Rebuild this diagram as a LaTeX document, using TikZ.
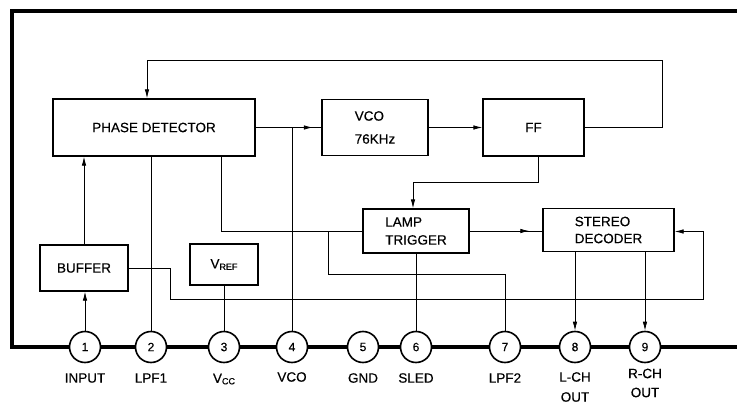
\documentclass[tikz,border=0pt]{standalone}
\usepackage{fontspec}
\setmainfont[FakeBold=0.4]{Liberation Sans}
\usetikzlibrary{arrows.meta,decorations.markings}
\newcommand{\sm}[1]{{\fontsize{9}{9}\selectfont\raisebox{-1.5pt}{#1}}}
\begin{document}
\begin{tikzpicture}[x=1pt,y=-1pt,
  txt/.style={font=\fontsize{13.5}{18}\selectfont},
  box/.style={draw,line width=1.3pt,inner sep=0pt,fill=white,txt},
  pinc/.style={draw,circle,line width=1.6pt,fill=white,minimum size=31pt,inner sep=0pt,font=\fontsize{12}{12}\selectfont},
  lbl/.style={txt,inner sep=0pt},
  wire/.style={line width=0.8pt},
  arr/.style={-{Latex[length=9pt,width=4.5pt]}},
  midarr/.style={postaction={decorate},decoration={markings,mark=at position #1 with {\arrow{Latex[length=9pt,width=4.5pt]}}}}]
\useasboundingbox (0,0) rectangle (737,404);
% frame
\draw[line width=3.5pt,line join=miter] (737,11) -- (12,11) -- (12,347) -- (737,347);
% blocks
\node[box,minimum width=202pt,minimum height=57pt] (PD) at (154,127.5) {PHASE DETECTOR};
\node[box,minimum width=106pt,minimum height=56pt,align=left,font=\fontsize{13.5}{23}\selectfont] (VCO) at (375,127.5) {VCO\\76KHz};
\node[box,minimum width=101pt,minimum height=57pt] (FF) at (533.5,127.5) {FF};
\node[box,minimum width=106pt,minimum height=44pt,align=left] (LT) at (416,231) {LAMP\\TRIGGER};
\node[box,minimum width=131pt,minimum height=43pt,align=left,font=\fontsize{13.5}{17}\selectfont] (SD) at (608.5,230) {STEREO\\DECODER};
\node[box,minimum width=88pt,minimum height=46pt] (buf) at (84,268) {BUFFER};
\node[box,minimum width=68pt,minimum height=41pt] (vref) at (224,264.5) {V\sm{REF}};
% pins
\node[pinc] (p1) at (85,347) {1};
\node[pinc] (p2) at (151,347) {2};
\node[pinc] (p3) at (224,347) {3};
\node[pinc] (p4) at (292,347) {4};
\node[pinc] (p5) at (363,347) {5};
\node[pinc] (p6) at (416,347) {6};
\node[pinc] (p7) at (505,347) {7};
\node[pinc] (p8) at (575,347) {8};
\node[pinc] (p9) at (645,347) {9};
% pin labels
\node[lbl] (l1) at (85,378) {INPUT};
\node[lbl] (l2) at (151,378) {LPF1};
\node[lbl] (l3) at (224,379) {V\sm{CC}};
\node[lbl] (l4) at (292,377) {VCO};
\node[lbl] (l5) at (363,378) {GND};
\node[lbl] (l6) at (416,378) {SLED};
\node[lbl] (l7) at (505,378) {LPF2};
\node[lbl,align=center,font=\fontsize{13.5}{20}\selectfont] (l8) at (575,387) {L-CH\\OUT};
\node[lbl,align=center,font=\fontsize{13.5}{19}\selectfont] (l9) at (645,383) {R-CH\\OUT};
% helper coordinates
\coordinate (tr) at (662,60);
\coordinate (tl) at (147,60);
\coordinate (ffk) at (538,182);
\coordinate (j7) at (328,274);
\coordinate (bk) at (170,299);
\coordinate (rk) at (703,299);
% connectors
\draw[wire,midarr=0.87] (PD.east) -- (VCO.west);
\draw[wire,arr] (VCO.east) -- (FF.west);
\draw[wire,arr] (FF.east) -| (tr) -| (PD.north -| tl);
\draw[wire,arr] (FF.south -| ffk) -- (ffk) -| ([xshift=-3pt]LT.north);
\draw[wire] ([xshift=67pt]PD.south) |- (LT.west);
\draw[wire,arr] (p1.north) -- (p1.north |- buf.south);
\draw[wire,arr] (buf.north) -- (buf.north |- PD.south);
\draw[wire] (p2.north) -- (p2 |- PD.south);
\draw[wire] (vref.south) -- (p3.north);
\draw[wire] (p4.north) -- (p4 |- PD.east);
\draw[wire] (p7.north) |- (j7) -- (j7 |- LT.west);
\draw[wire] (LT.south) -- (p6.north);
\draw[wire,midarr=0.82] (LT.east) -- (LT.east -| SD.west);
\draw[wire,arr] (buf.east) -| (bk) -- (rk) |- ([yshift=-1.5pt]SD.east);
\draw[wire,arr] (p8 |- SD.south) -- (p8.north);
\draw[wire,arr] (p9 |- SD.south) -- (p9.north);
\end{tikzpicture}
\end{document}
